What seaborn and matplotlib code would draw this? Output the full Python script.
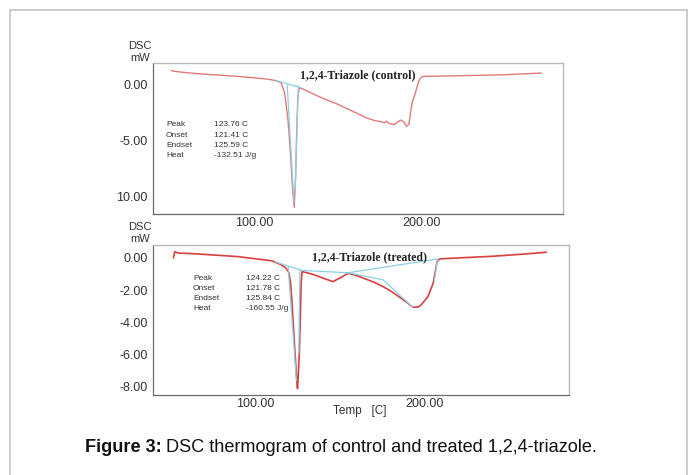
import numpy as np
import pandas as pd
import matplotlib
matplotlib.use("Agg")
import matplotlib.pyplot as plt
import seaborn as sns
from matplotlib.lines import Line2D
from matplotlib.ticker import MultipleLocator
from matplotlib import font_manager

# ---------------- data ----------------
ctrl_temp = [50.0, 50.8, 55, 60, 70, 80, 90, 100, 108, 113, 116, 118, 120, 121.5, 122.8, 123.76,
             124.5, 125.2, 125.8, 126.5, 127, 130, 140, 150, 160, 167, 172, 176, 178, 179, 180.5,
             184, 186, 187.5, 189.5, 191, 192.5, 193.5, 194.5, 196, 197.5, 199, 200.6, 220, 250, 272]
ctrl_dsc = [1.25, 1.18, 1.1, 1.02, 0.9, 0.8, 0.7, 0.57, 0.45, 0.32, 0.1, -0.8, -3.2, -6.2, -9.5, -11.0,
            -8.5, -4.5, -1.5, -0.5, -0.3, -0.5, -1.2, -1.8, -2.5, -3.0, -3.25, -3.35, -3.45, -3.3, -3.5,
            -3.6, -3.35, -3.2, -3.35, -3.75, -3.6, -2.6, -1.6, -1.0, -0.2, 0.45, 0.7, 0.75, 0.85, 1.0]

trt_temp = [52.0, 52.8, 55, 60, 70, 80, 90, 100, 110, 115, 118, 120, 121, 122, 123, 124, 124.7, 125.1,
            125.6, 126.2, 126.8, 127.3, 127.8, 130, 135, 140, 146, 150, 155, 160, 165, 170, 175.5, 180,
            185.3, 190, 193, 196, 198, 201.9, 205, 207.3, 208.8, 220, 240, 260, 271.6]
trt_dsc = [0.0, 0.38, 0.3, 0.28, 0.22, 0.15, 0.08, -0.05, -0.18, -0.4, -0.6, -0.9, -1.5, -3.0, -4.8, -6.5,
           -7.6, -8.1, -7.2, -5.9, -3.5, -1.5, -0.85, -0.9, -1.05, -1.25, -1.47, -1.25, -0.95, -1.1, -1.3,
           -1.5, -1.78, -2.05, -2.44, -2.8, -3.06, -3.05, -2.9, -2.4, -1.57, -0.23, -0.06, 0.0, 0.1, 0.25, 0.35]

# integration guide lines (temperature, mW) for each panel
ctrl_guides = [
    ([113, 127.5], [0.32, -0.3]),
    ([119.5, 123.6], [-0.05, -10.6]),
    ([126.2, 124.3], [-0.1, -9.5]),
]
trt_guides = [
    ([112, 128], [-0.25, -0.78]),
    ([128, 155], [-0.78, -0.92]),
    ([155, 208.5], [-0.92, -0.05]),
    ([155, 175.5, 193], [-0.92, -1.36, -3.06]),
    ([119.6, 124.5], [-0.55, -7.6]),
    ([126.5, 125.9], [-0.7, -5.9]),
    ([207.5, 205.6], [-0.1, -1.5]),
]

ctrl_stats = [("Peak", "123.76 C"), ("Onset", "121.41 C"), ("Endset", "125.59 C"), ("Heat", "-132.51 J/g")]
trt_stats = [("Peak", "124.22 C"), ("Onset", "121.78 C"), ("Endset", "125.84 C"), ("Heat", "-160.55 J/g")]

ctrl_yticks = [0, -5, -10]
ctrl_yticklabels = ["0.00", "-5.00", "10.00"]
trt_yticks = [0, -2, -4, -6, -8]
trt_yticklabels = ["0.00", "-2.00", "-4.00", "-6.00", "-8.00"]
xticks = [100, 200]
xticklabels = ["100.00", "200.00"]

# ---------------- style ----------------
sns.set_style("white")
plt.rcParams['font.family'] = ['Liberation Sans', 'DejaVu Sans']

W, H = 695, 475
fig = plt.figure(figsize=(W / 100, H / 100), dpi=100)
fig.patch.set_facecolor("white")

def fx(px):
    return px / W

def fy(py):
    return 1 - py / H

ax1 = fig.add_axes([fx(153), fy(214), fx(563 - 153), (214 - 63) / H])
ax2 = fig.add_axes([fx(153), fy(395), fx(569 - 153), (395 - 245) / H])

red_c = "#e27a7a"
red_t = "#d8403f"
blue = "#8ccfe3"

sns.lineplot(x=ctrl_temp, y=ctrl_dsc, ax=ax1, sort=False, estimator=None, color=red_c, lw=1.0)
sns.lineplot(x=trt_temp, y=trt_dsc, ax=ax2, sort=False, estimator=None, color=red_t, lw=1.2)
for xs, ys in ctrl_guides:
    sns.lineplot(x=xs, y=ys, ax=ax1, sort=False, estimator=None, color=blue, lw=0.9)
for xs, ys in trt_guides:
    sns.lineplot(x=xs, y=ys, ax=ax2, sort=False, estimator=None, color=blue, lw=0.9)

ax1.set_xlim(39, 285)
ax1.set_ylim(-11.6, 1.9)
ax2.set_xlim(40, 285)
ax2.set_ylim(-8.5, 0.8)

for ax, yt, ytl, ymin in [(ax1, ctrl_yticks, ctrl_yticklabels, 2.5), (ax2, trt_yticks, trt_yticklabels, 1.0)]:
    ax.set_xticks(xticks)
    ax.set_xticklabels(xticklabels)
    ax.set_yticks(yt)
    ax.set_yticklabels(ytl)
    ax.xaxis.set_minor_locator(MultipleLocator(20))
    ax.yaxis.set_minor_locator(MultipleLocator(ymin))
    ax.tick_params(axis="x", which="major", direction="in", length=4, width=0.8, color="#555555",
                   labelsize=9, labelcolor="#333333", pad=2)
    ax.tick_params(axis="x", which="minor", direction="in", length=2, width=0.6, color="#777777")
    ax.tick_params(axis="y", which="major", direction="out", length=3, width=0.8, color="#555555",
                   labelsize=9, labelcolor="#333333", pad=1)
    ax.tick_params(axis="y", which="minor", direction="in", length=2, width=0.6, color="#777777")
    ax.set_xlabel("")
    ax.set_ylabel("")
    for s in ["left", "bottom"]:
        ax.spines[s].set_color("#6a6a6a")
        ax.spines[s].set_linewidth(0.9)
    for s in ["top", "right"]:
        ax.spines[s].set_color("#b8b8b8")
        ax.spines[s].set_linewidth(1.0)
    ax.grid(False)

# titles inside panels
ax1.text(0.5, 0.92, "1,2,4-Triazole (control)", transform=ax1.transAxes, ha="center", va="center",
         fontsize=8.5, fontweight="bold", family=["Liberation Serif", "DejaVu Serif"], color="#222222")
ax2.text(0.52, 0.915, "1,2,4-Triazole (treated)", transform=ax2.transAxes, ha="center", va="center",
         fontsize=8.5, fontweight="bold", family=["Liberation Serif", "DejaVu Serif"], color="#222222")

def stats(ax_y0, x0, x1, rows):
    for i, (k, v) in enumerate(rows):
        y = ax_y0 + i * 10.3
        fig.text(fx(x0), fy(y), k, fontsize=6, va="center", ha="left", color="#333333")
        fig.text(fx(x1), fy(y), v, fontsize=6, va="center", ha="left", color="#333333")

stats(125, 166, 214, ctrl_stats)
stats(278, 193, 246, trt_stats)

# DSC / mW labels
for y0 in (46, 227):
    fig.text(fx(140), fy(y0), "DSC", fontsize=8, ha="center", va="center", color="#333333")
    fig.text(fx(140), fy(y0 + 12), "mW", fontsize=8, ha="center", va="center", color="#333333")

fig.text(fx(360), fy(411), "Temp   [C]", fontsize=8.5, ha="center", va="center", color="#333333")

# outer border (open at bottom)
bc = "#c4c4c4"
fig.add_artist(Line2D([fx(10), fx(10)], [fy(10), 0], color=bc, lw=1.2))
fig.add_artist(Line2D([fx(687), fx(687)], [fy(10), 0], color=bc, lw=1.2))
fig.add_artist(Line2D([fx(10), fx(687)], [fy(10), fy(10)], color=bc, lw=1.2))

# caption
names = [f.name for f in font_manager.fontManager.ttflist]
cap_family = "Liberation Sans Narrow" if "Liberation Sans Narrow" in names else "Liberation Sans"
cap_size = 13.1
t1 = fig.text(fx(85), fy(447), "Figure 3:", fontsize=cap_size, fontweight="bold", family=cap_family,
              ha="left", va="center", color="#111111")
fig.canvas.draw()
r = fig.canvas.get_renderer()
bb = t1.get_window_extent(r)
fig.text(bb.x1 / W + fx(4), fy(447), "DSC thermogram of control and treated 1,2,4-triazole.",
         fontsize=cap_size, family=cap_family, ha="left", va="center", color="#111111")

fig.savefig("out.png", dpi=100)
